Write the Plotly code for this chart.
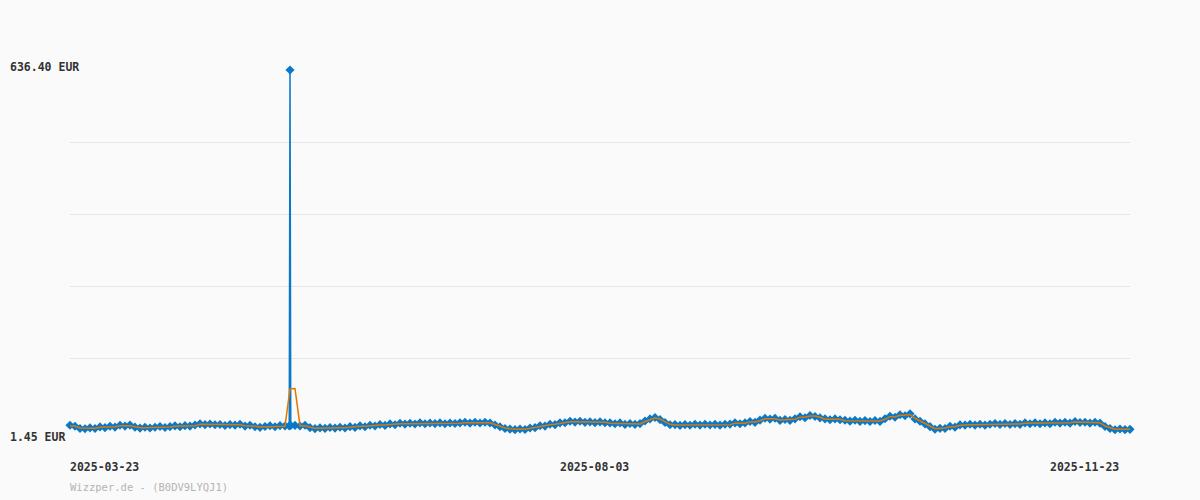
import plotly.graph_objects as go

# daily index -> prices (EUR)
orange_prices = [
    8.5, 8.5, 5.0, 4.45, 4.45, 4.45, 6.2, 6.2, 7.3, 7.3,
    9.0, 9.0, 9.0, 7.3, 5.5, 5.5, 5.5, 5.5, 6.7, 6.7,
    6.7, 8.0, 8.0, 8.0, 9.0, 9.0, 11.5, 11.5, 11.5, 11.5,
    10.3, 10.3, 10.3, 10.8, 10.8, 9.0, 9.0, 8.0, 6.7, 6.7,
    8.0, 8.0, 8.0, 8.0, 73.8, 74.6, 9.0, 9.0, 6.2, 4.45,
    4.45, 5.0, 5.0, 5.5, 5.5, 5.5, 6.7, 6.7, 8.0, 8.0,
    9.0, 9.0, 10.3, 10.3, 11.5, 11.5, 12.6, 12.6, 12.6, 12.6,
    13.3, 13.3, 13.3, 13.3, 13.3, 13.3, 13.3, 13.3, 13.3, 14.3,
    14.3, 14.3, 14.3, 14.3, 14.3, 11.2, 8.0, 5.0, 3.7, 2.7,
    2.7, 2.7, 4.45, 6.2, 8.0, 9.0, 10.8, 11.5, 13.3, 15.0,
    16.1, 16.1, 16.1, 15.6, 15.0, 15.0, 15.0, 15.0, 13.3, 13.3,
    13.3, 12.0, 12.0, 12.0, 12.0, 16.4, 20.0, 22.6, 20.9, 15.6,
    11.5, 10.3, 10.3, 10.3, 10.3, 10.8, 10.8, 10.8, 10.8, 10.8,
    10.8, 10.8, 10.8, 13.3, 13.3, 13.3, 15.6, 15.6, 17.9, 21.4,
    21.4, 21.4, 19.1, 19.1, 19.1, 20.3, 23.9, 23.9, 26.1, 26.1,
    23.9, 20.3, 20.3, 20.3, 20.3, 17.9, 17.9, 17.9, 17.3, 17.3,
    17.3, 17.3, 17.3, 20.3, 24.9, 24.9, 27.4, 27.4, 28.8, 22.1,
    17.9, 13.3, 8.5, 3.7, 3.7, 5.0, 7.3, 7.3, 9.7, 10.8,
    10.8, 10.8, 10.8, 10.8, 10.8, 12.0, 12.0, 12.0, 12.0, 12.0,
    12.0, 13.3, 13.3, 13.3, 13.3, 13.3, 13.3, 14.3, 14.3, 14.3,
    14.3, 15.6, 15.6, 14.3, 14.3, 14.3, 14.3, 8.5, 5.0, 2.7,
    2.7, 2.7, 2.7,
]

blue_prices = [
    9.8, 8.0, 4.2, 3.6, 5.2, 4.0, 6.9, 5.6, 8.1, 6.6,
    9.9, 8.3, 10.1, 6.5, 4.8, 6.3, 4.9, 6.2, 7.5, 5.9,
    7.4, 8.8, 7.2, 9.1, 8.3, 10.2, 12.3, 10.9, 12.0, 10.7,
    11.2, 9.5, 11.0, 10.0, 11.7, 8.3, 9.9, 7.2, 6.1, 7.6,
    8.9, 7.3, 9.2, 8.6, 636.40, 9.6, 8.4, 9.8, 5.6, 3.8,
    5.2, 4.3, 5.8, 4.8, 6.3, 4.9, 7.4, 6.0, 8.8, 7.3,
    9.7, 8.4, 11.1, 9.6, 12.2, 10.8, 13.4, 11.9, 13.3, 12.0,
    14.1, 12.6, 13.9, 12.7, 14.0, 12.6, 13.9, 12.8, 14.1, 15.0,
    13.6, 15.1, 13.7, 15.0, 13.8, 10.2, 7.1, 4.2, 3.0, 2.1,
    3.3, 2.2, 5.1, 5.6, 8.9, 8.3, 11.6, 10.9, 14.1, 14.3,
    16.9, 15.4, 16.8, 14.9, 15.8, 14.4, 15.7, 14.3, 14.0, 12.6,
    14.0, 11.3, 12.8, 11.4, 12.7, 17.2, 21.0, 23.4, 19.8, 14.6,
    10.8, 11.0, 9.6, 11.0, 9.7, 11.5, 10.1, 11.6, 10.2, 11.4,
    10.0, 11.5, 11.9, 14.1, 12.6, 14.0, 16.4, 14.9, 18.9, 22.2,
    20.7, 22.1, 18.4, 19.9, 18.5, 21.1, 24.8, 23.1, 27.0, 25.2,
    22.9, 21.1, 19.5, 21.0, 19.6, 18.6, 17.1, 18.7, 16.6, 18.0,
    16.5, 18.1, 16.6, 21.4, 25.8, 24.0, 28.3, 26.6, 29.9, 21.0,
    16.8, 12.2, 7.4, 2.9, 4.4, 4.2, 8.0, 6.5, 10.5, 10.0,
    11.6, 10.1, 11.5, 10.0, 11.6, 12.8, 11.3, 12.9, 11.2, 12.7,
    11.4, 14.0, 12.5, 14.1, 12.6, 14.0, 12.5, 15.1, 13.6, 15.0,
    13.5, 16.4, 14.8, 15.0, 13.6, 15.1, 13.5, 7.6, 4.2, 2.0,
    3.2, 2.1, 2.6,
]

# intraday readings around the price spike
intraday_x = [43.85, 44.15]
intraday_prices = [8.8, 9.4]

date_labels = ["2025-03-23", "2025-08-03", "2025-11-23"]
date_index = [0, 98, 196]

y_min = 1.45
y_max = 636.40

days = list(range(len(orange_prices)))
blue_pts = sorted(list(zip(days, blue_prices)) + list(zip(intraday_x, intraday_prices)))
blue_x = [p[0] for p in blue_pts]
blue_y = [p[1] for p in blue_pts]

fig = go.Figure()

fig.add_trace(go.Scatter(
    x=blue_x, y=blue_y, mode='lines+markers',
    line=dict(color='#0a78c8', width=1.5),
    marker=dict(symbol='diamond', size=7, color='#0a78c8'),
    cliponaxis=False, hoverinfo='skip'
))

fig.add_trace(go.Scatter(
    x=days, y=orange_prices, mode='lines',
    line=dict(color='#e07800', width=1.5),
    cliponaxis=False, hoverinfo='skip'
))

tick_font = dict(family='DejaVu Sans Mono', size=11.5, color='#333333', weight='bold')

annotations = []
for lbl, idx in zip(date_labels, date_index):
    annotations.append(dict(
        x=idx, y=-0.103, xref='x', yref='paper', text=lbl, xshift=-2,
        showarrow=False, xanchor='left', yanchor='middle', font=tick_font
    ))

annotations.append(dict(
    x=-60 / 1060, y=y_max, xref='paper', yref='y', yshift=3, xshift=-2,
    text=f'{y_max:.2f} EUR', showarrow=False,
    xanchor='left', yanchor='middle', font=tick_font
))
annotations.append(dict(
    x=-60 / 1060, y=y_min, xref='paper', yref='y', yshift=-7, xshift=-2,
    text=f'{y_min:.2f} EUR', showarrow=False,
    xanchor='left', yanchor='middle', font=tick_font
))
annotations.append(dict(
    x=0, y=-0.158, xref='paper', yref='paper', xshift=-2,
    text='Wizzper.de - (B0DV9LYQJ1)', showarrow=False,
    xanchor='left', yanchor='middle',
    font=dict(family='DejaVu Sans Mono', size=10.5, color='#b4b4b4')
))

fig.update_layout(
    width=1200, height=500,
    margin=dict(l=70, r=70, t=70, b=70),
    paper_bgcolor='#fafafa', plot_bgcolor='#fafafa',
    showlegend=False,
    annotations=annotations,
    xaxis=dict(range=[0, len(days) - 1], showgrid=False, zeroline=False,
               showticklabels=False, showline=False),
    yaxis=dict(range=[y_min, y_max], tick0=y_min, dtick=(y_max - y_min) / 5,
               showgrid=True, gridcolor='#e6e6e6', gridwidth=1,
               zeroline=False, showticklabels=False, showline=False),
)

fig.write_html(
    "out.html",
    config={'displayModeBar': False},
    post_script="document.body.style.margin='0';document.body.style.background='#fafafa';"
)
